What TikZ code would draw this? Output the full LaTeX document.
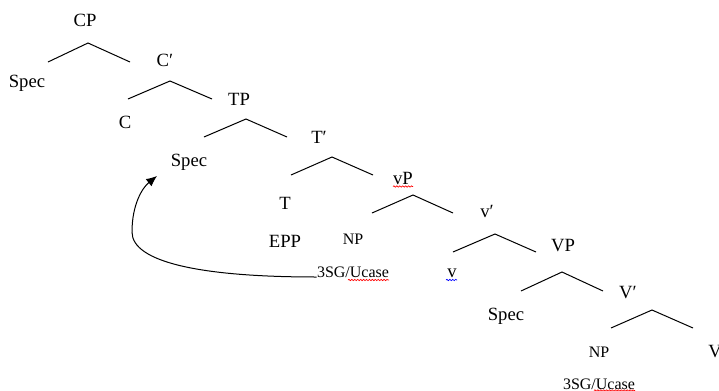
\documentclass[tikz,border=0pt]{standalone}
\usepackage{fontspec}
\setmainfont{Liberation Serif}
\usetikzlibrary{arrows.meta,decorations.pathmorphing}
\tikzset{
  lbl/.style={anchor=base,inner sep=0pt,font=\fontsize{14}{16}\selectfont},
  feat/.style={anchor=base,inner sep=0pt,font=\fontsize{12}{14}\selectfont},
  spellred/.style={draw=red,line width=0.5pt,decorate,
    decoration={snake,amplitude=0.5pt,segment length=2.2pt}},
  spellblue/.style={spellred,draw=blue},
}
\begin{document}
\begin{tikzpicture}[x=0.75pt,y=-0.75pt,line width=0.75pt]
      \useasboundingbox (0,0) rectangle (719,390);
      \draw
        (85,26) node[lbl] (cp){CP}
        (27,87) node[lbl] (spec1){Spec}
        (165,66) node[lbl] (cbar){C′}
        (125,128) node[lbl] (c){C}
        (239,105) node[lbl] (tp){TP}
        (189,166) node[lbl] (spec2){Spec}
        (319,143) node[lbl] (tbar){T′}
        (285,209) node[lbl] (t){T}
        (285,247) node[lbl] (epp){EPP}
        (403,184) node[lbl] (vp){vP}
        (353,244) node[feat] (np1){NP}
        (353,277) node[feat] (ucase1){3SG/Ucase}
        (487,217) node[lbl] (vbar){v′}
        (452,277) node[lbl] (v){v}
        (563,251) node[lbl] (bigvp){VP}
        (506,320) node[lbl] (spec3){Spec}
        (628,298) node[lbl] (bigvbar){V′}
        (599,357) node[feat] (np2){NP}
        (599,389) node[feat] (ucase2){3SG/Ucase}
        (715,357) node[lbl] (bigv){V};
      % branch points
      \draw
        (48,62) coordinate (cp-l) (88,43) coordinate (cp-t) (130,62) coordinate (cp-r)
        (128,99) coordinate (cbar-l) (170,81) coordinate (cbar-t) (212,99) coordinate (cbar-r)
        (204,137) coordinate (tp-l) (246,119) coordinate (tp-t) (287,137) coordinate (tp-r)
        (291,175) coordinate (tbar-l) (332,157) coordinate (tbar-t) (373,175) coordinate (tbar-r)
        (372,213) coordinate (vp-l) (413,195) coordinate (vp-t) (453,213) coordinate (vp-r)
        (453,252) coordinate (vbar-l) (495,234) coordinate (vbar-t) (536,252) coordinate (vbar-r)
        (521,291) coordinate (bigvp-l) (562,272) coordinate (bigvp-t) (603,291) coordinate (bigvp-r)
        (611,328) coordinate (bigvbar-l) (652,310) coordinate (bigvbar-t) (693,328) coordinate (bigvbar-r)
        (157,176) coordinate (landing);
      \begin{scope}[-]
        \draw (cp-l) to (cp-t) to (cp-r);
        \draw (cbar-l) to (cbar-t) to (cbar-r);
        \draw (tp-l) to (tp-t) to (tp-r);
        \draw (tbar-l) to (tbar-t) to (tbar-r);
        \draw (vp-l) to (vp-t) to (vp-r);
        \draw (vbar-l) to (vbar-t) to (vbar-r);
        \draw (bigvp-l) to (bigvp-t) to (bigvp-r);
        \draw (bigvbar-l) to (bigvbar-t) to (bigvbar-r);
      \end{scope}
      % movement to Spec,TP
      \draw[-{Latex[length=8pt,width=7pt]}] (ucase1.base west)
        .. controls (200,277) and (132,262) .. (132,232)
        .. controls (132,205) and (142,188) .. (landing);
      % spell-check marks
      \draw[spellred] (393,186.5) -- (413,186.5);
      \draw[spellred] (348,280) -- (389,280);
      \draw[spellblue] (446,280) -- (457,280);
      \draw[spellred] (594,390.5) -- (635,390.5);
    \end{tikzpicture}
\end{document}
